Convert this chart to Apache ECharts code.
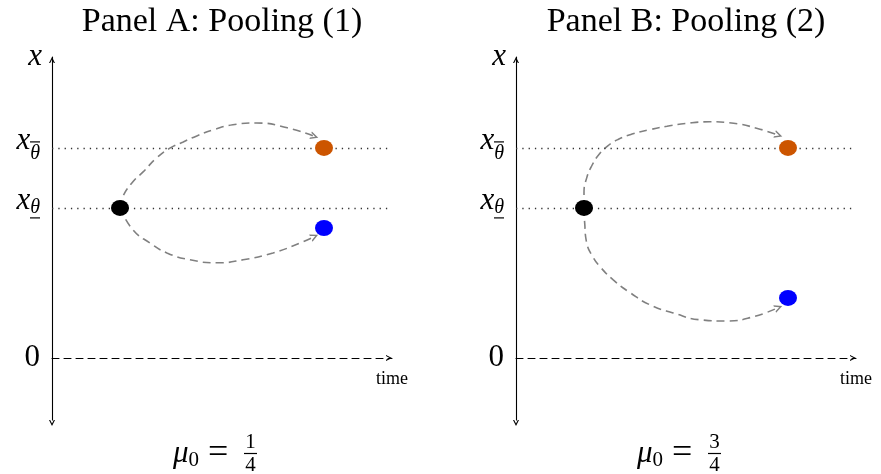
<!DOCTYPE html>
<html><head><meta charset="utf-8">
<script src="https://cdn.jsdelivr.net/npm/echarts@6/dist/echarts.min.js"></script>
<style>html,body{margin:0;padding:0;background:#fff}#c{width:881px;height:474px}</style>
</head><body><div id="c"></div>
<script>
// ---------- data ----------
const panelTitles = ['Panel A: Pooling (1)', 'Panel B: Pooling (2)'];
const priorNumerators = ['1', '3'];
const priorDenominators = ['4', '4'];
const tickValues = [0, 5, 7];
const tickLabels = ['{n|0}', '{x|x}{s1|θ}', '{x|x}{s2|θ}'];
const barValues = [5, 7];                 // θ underlined at 5, overlined at 7
const barLabels = ['{sp1| }\n{u| }', '{o| }\n{sp2| }'];
const axisTopLabel = 'x';
const timeLabel = 'time';
const levelValues = [5, 7];
const dotColors = ['#000000', '#CC5500', '#0000FF'];
const dotsA = [[1, 5], [4, 7], [4, 4.33]];
const dotsB = [[1, 5], [4, 7], [4, 2]];
const upperCurveA = [[1, 5], [1.04, 5.37], [1.19, 5.87], [1.34, 6.2], [1.54, 6.67], [1.74, 7.0], [1.93, 7.2], [2.13, 7.4], [2.37, 7.6], [2.66, 7.77], [3.01, 7.83], [3.46, 7.67], [3.86, 7.38]];
const lowerCurveA = [[1, 5], [1.19, 4.27], [1.44, 3.83], [1.69, 3.5], [2.03, 3.27], [2.43, 3.17], [2.81, 3.27], [3.25, 3.5], [3.65, 3.83], [3.86, 4.05]];
const upperCurveB = [[1, 5], [1.0, 5.5], [1.04, 6.0], [1.12, 6.43], [1.22, 6.78], [1.35, 7.07], [1.5, 7.28], [1.72, 7.47], [1.97, 7.61], [2.22, 7.72], [2.51, 7.82], [2.85, 7.87], [3.2, 7.82], [3.55, 7.65], [3.86, 7.42]];
const lowerCurveB = [[1, 5], [1.01, 4.5], [1.04, 3.83], [1.13, 3.37], [1.24, 3.03], [1.43, 2.6], [1.68, 2.17], [1.97, 1.77], [2.31, 1.5], [2.71, 1.27], [3.10, 1.23], [3.49, 1.37], [3.86, 1.68]];
const timeRange = [0, 5];
const valueRange = [-2.07, 10.03];

// ---------- styling ----------
const FONT = "'Liberation Serif', 'DejaVu Serif', serif";
const CHEVRON = 'path://M0,10 L5,0 L10,10 L8,10 L5,4 L2,10 Z';
const CURVE_COLOR = '#808080';
const gridLefts = [52, 516];
const panels = [
  { dots: dotsA, curves: [upperCurveA, lowerCurveA] },
  { dots: dotsB, curves: [upperCurveB, lowerCurveB] }
];
const subStyle = pad => ({ fontFamily: FONT, fontSize: 20, fontStyle: 'italic', color: '#000', padding: [pad, 0, 0, 0] });
const barStyle = { width: 10, height: 1.2, lineHeight: 2, fontSize: 1, backgroundColor: '#000', align: 'right' };

const grids = [], xAxes = [], yAxes = [], series = [], titles = [];
panels.forEach((p, i) => {
  grids.push({ left: gridLefts[i], top: 57, width: 340, height: 363 });
  xAxes.push({
    gridIndex: i, type: 'value', min: timeRange[0], max: timeRange[1],
    splitLine: { show: false }, axisTick: { show: false }, axisLabel: { show: false },
    axisLine: { show: true, onZero: true, symbol: ['none', CHEVRON], symbolSize: [9, 6], symbolOffset: [0, -3],
      lineStyle: { color: '#000', width: 1.1, type: [7, 5] } },
    name: timeLabel, nameLocation: 'end', nameGap: 0,
    nameTextStyle: { fontFamily: FONT, fontSize: 18, color: '#000', align: 'center', verticalAlign: 'top', padding: [12, 0, 0, 0] }
  });
  yAxes.push({
    gridIndex: i, type: 'value', min: valueRange[0], max: valueRange[1],
    splitLine: { show: false }, axisTick: { show: false },
    axisLine: { show: true, onZero: false, symbol: [CHEVRON, CHEVRON], symbolSize: [9, 6], symbolOffset: [-3, -3],
      lineStyle: { color: '#000', width: 1.1 } },
    axisLabel: {
      customValues: tickValues, margin: 12, color: '#000',
      formatter: v => { const k = tickValues.indexOf(v); return k >= 0 ? tickLabels[k] : ''; },
      rich: {
        n: { fontFamily: FONT, fontSize: 31, color: '#000' },
        x: { fontFamily: FONT, fontSize: 31, fontStyle: 'italic', color: '#000', padding: [0, 0, 14, 0] },
        s1: subStyle(0),
        s2: subStyle(12)
      }
    },
    name: axisTopLabel, nameLocation: 'end', nameGap: 0,
    nameTextStyle: { fontFamily: FONT, fontSize: 31, fontStyle: 'italic', color: '#000', align: 'right', verticalAlign: 'middle', padding: [0, 10, 0, 0] }
  });
  // companion axis drawing the over/under bars on the θ subscripts
  yAxes.push({
    gridIndex: i, type: 'value', min: valueRange[0], max: valueRange[1], position: 'left',
    splitLine: { show: false }, axisTick: { show: false }, axisLine: { show: false },
    axisLabel: {
      customValues: barValues, margin: 12,
      formatter: v => { const k = barValues.indexOf(v); return k >= 0 ? barLabels[k] : ''; },
      rich: {
        o: barStyle, u: barStyle,
        sp1: { fontSize: 1, lineHeight: 20, align: 'right' },
        sp2: { fontSize: 1, lineHeight: 12, align: 'right' }
      }
    }
  });
  // dotted reference levels
  series.push({
    type: 'line', xAxisIndex: i, yAxisIndex: 2 * i, data: [], silent: true,
    markLine: { silent: true, symbol: ['none', 'none'], label: { show: false },
      lineStyle: { color: '#333', width: 1.3, type: [1.3, 5] },
      data: levelValues.map(v => ({ yAxis: v })) }
  });
  // dashed curves with arrowheads
  p.curves.forEach(c => {
    series.push({
      type: 'line', xAxisIndex: i, yAxisIndex: 2 * i, data: c, smooth: 0.5, showSymbol: false, silent: true,
      lineStyle: { color: CURVE_COLOR, width: 1.6, type: [8, 5] }, z: 3
    });
    series.push({
      type: 'lines', coordinateSystem: 'cartesian2d', xAxisIndex: i, yAxisIndex: 2 * i, silent: true,
      symbol: ['none', CHEVRON], symbolSize: [11, 8],
      lineStyle: { color: CURVE_COLOR, width: 0, opacity: 1 },
      data: [{ coords: [c[c.length - 2], c[c.length - 1]] }], z: 4
    });
  });
  // dots
  series.push({
    type: 'scatter', xAxisIndex: i, yAxisIndex: 2 * i, silent: true, z: 5,
    symbol: 'path://M0,10 A10,10 0 1,1 20,10 A10,10 0 1,1 0,10 Z', symbolSize: [18, 16],
    data: p.dots.map((d, k) => ({ value: d, itemStyle: { color: dotColors[k], opacity: 1 } }))
  });
  const cx = gridLefts[i] + 165;
  titles.push({
    text: panelTitles[i], left: cx, top: 0, textAlign: 'center',
    textStyle: { fontFamily: FONT, fontSize: 34, fontWeight: 'normal', color: '#000' }
  });
  titles.push({
    text: '{mu|μ}{sub|0}{eq| = }', left: gridLefts[i] + 116, top: 431,
    textStyle: { fontWeight: 'normal', rich: {
      mu: { fontFamily: FONT, fontSize: 31, fontStyle: 'italic', fontWeight: 'normal', color: '#000' },
      sub: { fontFamily: FONT, fontSize: 21, fontWeight: 'normal', color: '#000', padding: [12, 0, 0, 0] },
      eq: { fontFamily: FONT, fontSize: 36, fontWeight: 'normal', color: '#000' }
    } }
  });
  titles.push({
    text: '{f|' + priorNumerators[i] + '}\n{bar| }\n{f|' + priorDenominators[i] + '}', left: gridLefts[i] + 187, top: 427,
    textStyle: { fontWeight: 'normal', rich: {
      f: { fontFamily: FONT, fontSize: 21, fontWeight: 'normal', color: '#000', align: 'center', lineHeight: 20 },
      bar: { width: 13, height: 1.2, lineHeight: 3, fontSize: 1, backgroundColor: '#000', align: 'center' }
    } }
  });
});

const chart = echarts.init(document.getElementById('c'), null, { renderer: 'canvas' });
chart.setOption({
  animation: false, backgroundColor: '#fff',
  title: titles, grid: grids, xAxis: xAxes, yAxis: yAxes, series: series
});
</script></body></html>
